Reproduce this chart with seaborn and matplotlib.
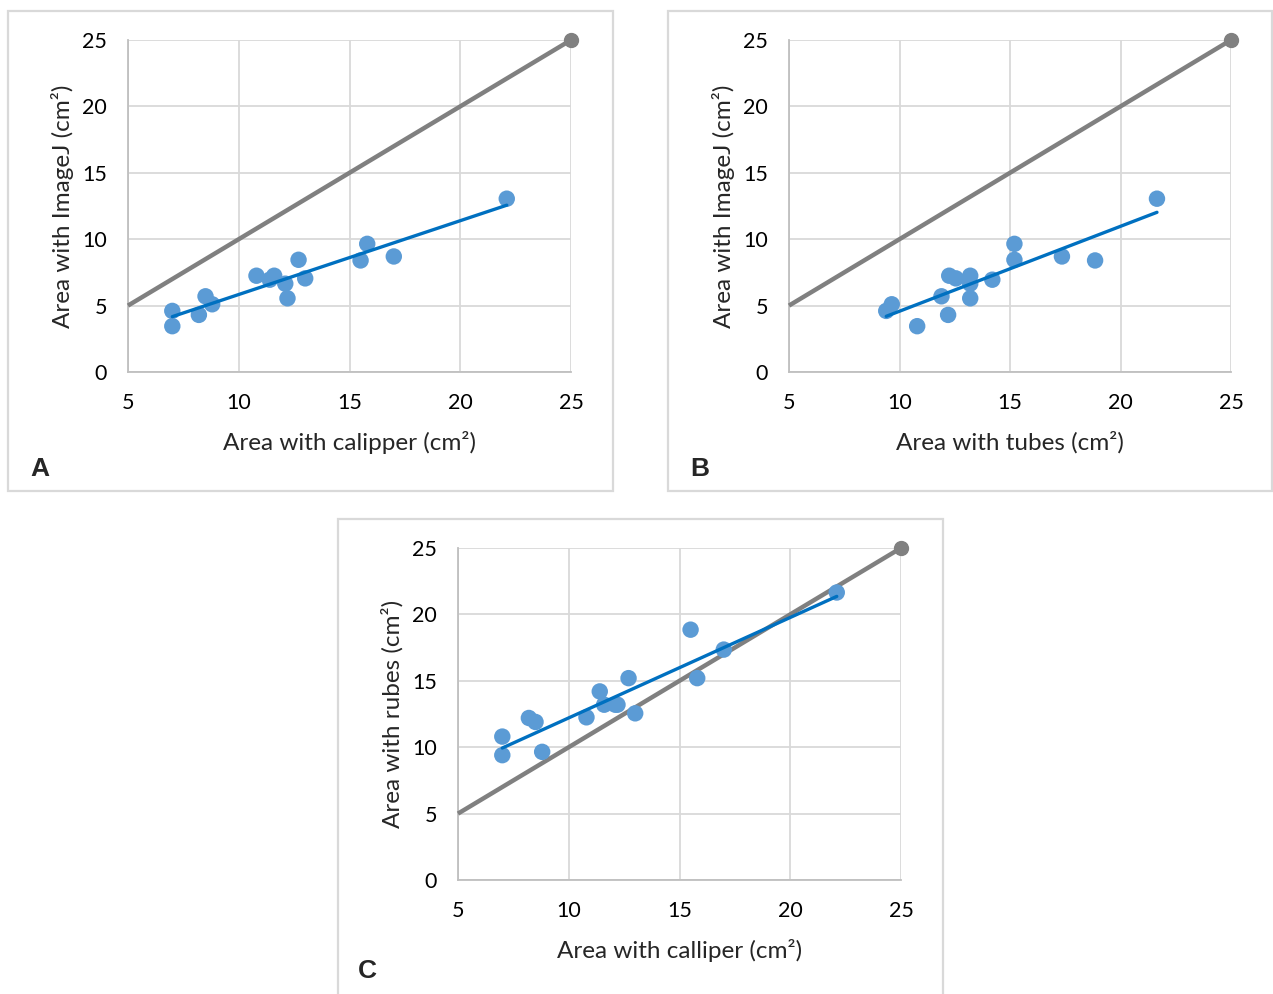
import numpy as np
import pandas as pd
import matplotlib
matplotlib.use("Agg")
import matplotlib.pyplot as plt
from matplotlib.patches import Rectangle
import seaborn as sns

# ---- data ----
calliper = [7.0, 7.0, 8.2, 8.5, 8.8, 10.8, 11.4, 11.6, 12.1, 12.2, 12.7, 13.0, 15.5, 15.8, 17.0, 22.1]
tubes = [9.4, 10.8, 12.2, 11.9, 9.65, 12.25, 14.2, 13.2, 13.2, 13.2, 15.2, 12.55, 18.85, 15.2, 17.35, 21.65]
imagej = [4.6, 3.45, 4.3, 5.7, 5.1, 7.25, 6.95, 7.25, 6.65, 5.55, 8.45, 7.05, 8.4, 9.65, 8.7, 13.05]
identity = [5, 25]
ticks = [5, 10, 15, 20, 25]
yticks = [0, 5, 10, 15, 20, 25]

df = pd.DataFrame({"calliper": calliper, "tubes": tubes, "imagej": imagej})

sns.set_theme(style="white")
plt.rcParams["font.family"] = ["Lato", "DejaVu Sans"]

W, H = 1273, 994
fig = plt.figure(figsize=(W / 100, H / 100), dpi=100)

def fax(x0, y0, x1, y1):
    return fig.add_axes([x0 / W, 1 - y1 / H, (x1 - x0) / W, (y1 - y0) / H])

def border(x0, y0, x1, y1):
    fig.patches.append(Rectangle((x0 / W, 1 - y1 / H), (x1 - x0) / W, (y1 - y0) / H,
                                 transform=fig.transFigure, fill=False,
                                 edgecolor="#d9d9d9", lw=1.6, zorder=0))

panels = [
    dict(box=(8, 11, 613, 491), ax=(128, 40, 571, 372), x="calliper", y="imagej",
         xl="Area with calipper (cm²)", yl="Area with ImageJ (cm²)", letter="A", lp=(30, 469)),
    dict(box=(668, 11, 1272, 491), ax=(789, 40, 1231, 372), x="tubes", y="imagej",
         xl="Area with tubes (cm²)", yl="Area with ImageJ (cm²)", letter="B", lp=(690, 469)),
    dict(box=(338, 519, 943, 1010), ax=(458, 548, 901, 880), x="calliper", y="tubes",
         xl="Area with calliper (cm²)", yl="Area with rubes (cm²)", letter="C", lp=(358, 971)),
]

for p in panels:
    border(*p["box"])
    ax = fax(*p["ax"])
    ax.set_xlim(5, 25)
    ax.set_ylim(0, 25)
    ax.set_xticks(ticks)
    ax.set_yticks(yticks)
    ax.grid(True, color="#d9d9d9", lw=1.3)
    ax.set_axisbelow(True)
    for s in ["top", "right"]:
        ax.spines[s].set_visible(False)
    for s in ["left", "bottom"]:
        ax.spines[s].set_color("#bfbfbf")
        ax.spines[s].set_linewidth(1.3)
    ax.tick_params(length=0, labelsize=15.5, colors="#000000")
    ax.tick_params(axis="y", pad=15)
    ax.tick_params(axis="x", pad=15)

    # identity line with end marker
    ax.plot(identity, identity, color="#808080", lw=3.2, marker="o", markersize=10,
            markevery=[1], solid_capstyle="butt", zorder=3, clip_on=False)
    sns.scatterplot(data=df, x=p["x"], y=p["y"], ax=ax, color="#5b9bd5", s=140,
                    edgecolor="none", zorder=4, clip_on=False)
    sns.regplot(data=df, x=p["x"], y=p["y"], ax=ax, scatter=False, ci=None,
                line_kws=dict(color="#0070c0", lw=2.4, zorder=5))
    ax.set_xlim(5, 25)
    ax.set_ylim(0, 25)
    ax.set_xlabel(p["xl"], fontsize=17.5, labelpad=13)
    ax.set_ylabel(p["yl"], fontsize=17.5, labelpad=6)
    fig.text(p["lp"][0] / W, 1 - p["lp"][1] / H, p["letter"], fontsize=19,
             fontweight="bold", family="Liberation Sans", va="center", ha="left")

fig.savefig("out.png", dpi=100)
